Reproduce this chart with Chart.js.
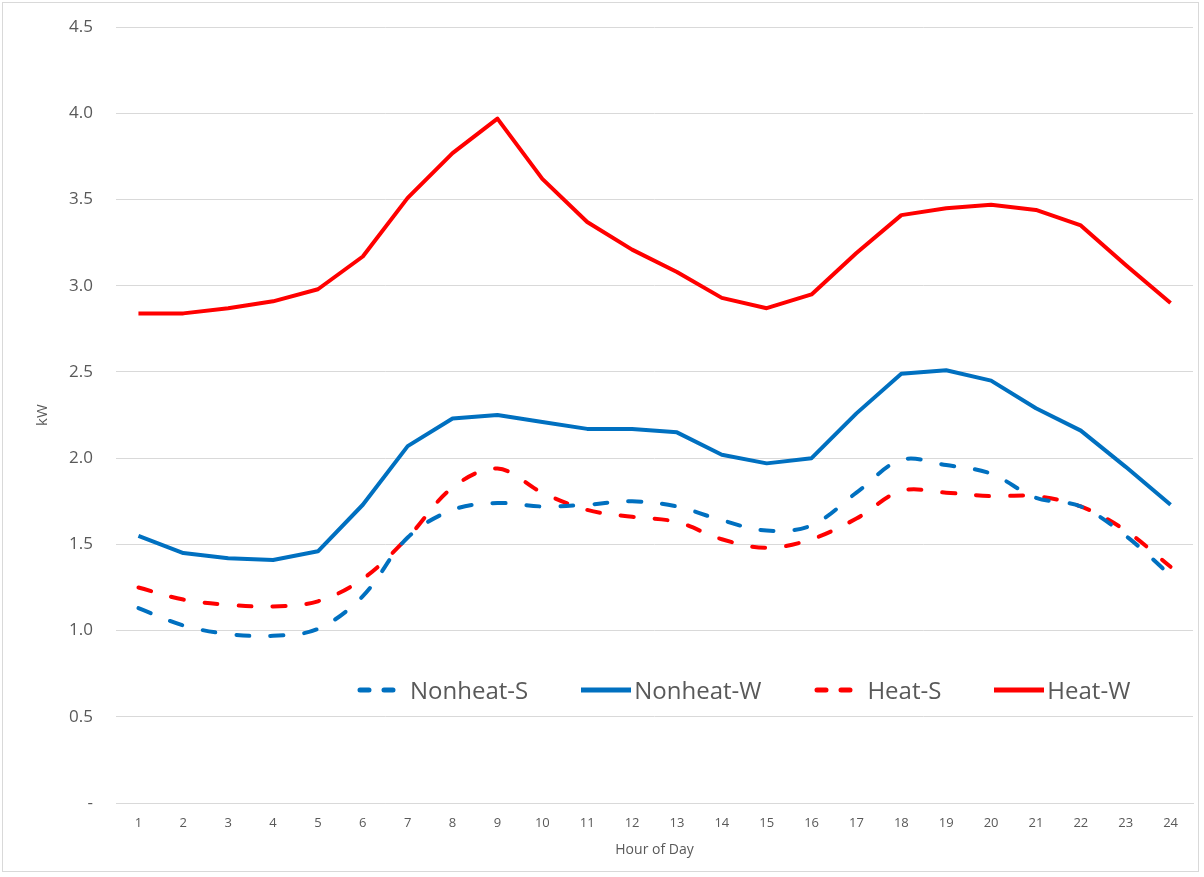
<!DOCTYPE html>
<html>
<head>
<meta charset="utf-8">
<script src="https://cdn.jsdelivr.net/npm/chart.js@4"></script>
<style>
  html, body { margin: 0; padding: 0; background: #fff; overflow: hidden; }
  #wrap { position: relative; width: 1204px; height: 877px; overflow: hidden; }
  #loadChart { position: absolute; left: 0; top: -6px; }
  #frame { position: absolute; left: 2px; top: 2px; width: 1197px; height: 870px; border: 1px solid #d9d9d9; box-sizing: border-box; pointer-events: none; }
  #legend { position: absolute; left: 357px; top: 673px; display: flex; align-items: center;
    font-family: "Open Sans", sans-serif; font-size: 24px; color: #595959; }
  #legend .item { display: flex; align-items: center; margin-right: 53px; }
  #legend svg { margin-right: 3px; }
</style>
</head>
<body>
<div id="wrap">
  <canvas id="loadChart" width="1204" height="883"></canvas>
  <div id="frame"></div>
  <div id="legend"></div>
</div>
<script>
const hours = ["1","2","3","4","5","6","7","8","9","10","11","12","13","14","15","16","17","18","19","20","21","22","23","24"];

const nonheatS = [1.13,1.03,0.98,0.97,1.01,1.20,1.54,1.70,1.74,1.72,1.73,1.75,1.72,1.64,1.58,1.61,1.80,1.99,1.96,1.91,1.77,1.72,1.55,1.32];
const nonheatW = [1.55,1.45,1.42,1.41,1.46,1.73,2.07,2.23,2.25,2.21,2.17,2.17,2.15,2.02,1.97,2.00,2.26,2.49,2.51,2.45,2.29,2.16,1.95,1.73];
const heatS    = [1.25,1.18,1.15,1.14,1.17,1.30,1.54,1.83,1.94,1.80,1.70,1.66,1.63,1.53,1.48,1.53,1.65,1.81,1.80,1.78,1.78,1.72,1.58,1.37];
const heatW    = [2.84,2.84,2.87,2.91,2.98,3.17,3.51,3.77,3.97,3.62,3.37,3.21,3.08,2.93,2.87,2.95,3.19,3.41,3.45,3.47,3.44,3.35,3.12,2.90];

const yTicks = [0,0.5,1.0,1.5,2.0,2.5,3.0,3.5,4.0,4.5];

const blue = "#0070c0";
const red = "#ff0000";
const fam = "'Open Sans', sans-serif";

function series(label, data, color, dashed) {
    return {
        label: label,
        data: data,
        borderColor: color,
        backgroundColor: color,
        borderWidth: 4,
        borderDash: dashed ? [13, 21] : [],
        borderCapStyle: dashed ? "round" : "butt",
        borderJoinStyle: "round",
        tension: dashed ? 0.35 : 0,
        pointRadius: 0,
        fill: false
    };
}

const datasets = [
    series("Nonheat-S", nonheatS, blue, true),
    series("Nonheat-W", nonheatW, blue, false),
    series("Heat-S", heatS, red, true),
    series("Heat-W", heatW, red, false)
];

new Chart(document.getElementById("loadChart"), {
    type: "line",
    data: { labels: hours, datasets: datasets },
    options: {
        responsive: false,
        animation: false,
        layout: { padding: { left: 0, right: 11, top: 18, bottom: 0 } },
        plugins: { legend: { display: false }, tooltip: { enabled: false } },
        scales: {
            x: {
                offset: true,
                grid: { display: false, drawTicks: false },
                border: { color: "#d9d9d9", width: 1 },
                ticks: { color: "#595959", font: { family: fam, size: 13 }, padding: 12, maxRotation: 0, autoSkip: false },
                title: { display: true, text: "Hour of Day", color: "#595959", font: { family: fam, size: 14 }, padding: { top: 4, bottom: 19 } },
                afterFit: function (scale) { scale.height = 74; }
            },
            y: {
                min: 0,
                max: 4.5,
                afterBuildTicks: function (scale) { scale.ticks = yTicks.map(v => ({ value: v })); },
                grid: { color: "#d9d9d9", drawTicks: false },
                border: { display: false },
                ticks: {
                    color: "#595959",
                    font: { family: fam, size: 17 },
                    padding: 23,
                    callback: function (v) { return v === 0 ? "-" : Number(v).toFixed(1); }
                },
                title: { display: true, text: "kW", color: "#595959", font: { family: fam, size: 15 }, padding: { top: 34, bottom: 0 } },
                afterFit: function (scale) { scale.width = 116; }
            }
        }
    }
});

// legend inside the plot, like the original
const legendBox = document.getElementById("legend");
datasets.forEach(function (ds) {
    const item = document.createElement("div");
    item.className = "item";
    const dash = ds.borderDash.length ? 'stroke-dasharray="9 15" stroke-linecap="round"' : '';
    item.innerHTML = '<svg width="50" height="10"><line x1="' + (dash ? 3 : 0) + '" y1="5" x2="' + (dash ? 47 : 50) + '" y2="5" stroke="' + ds.borderColor + '" stroke-width="5" ' + dash + '/></svg><span>' + ds.label + '</span>';
    legendBox.appendChild(item);
});
</script>
</body>
</html>
